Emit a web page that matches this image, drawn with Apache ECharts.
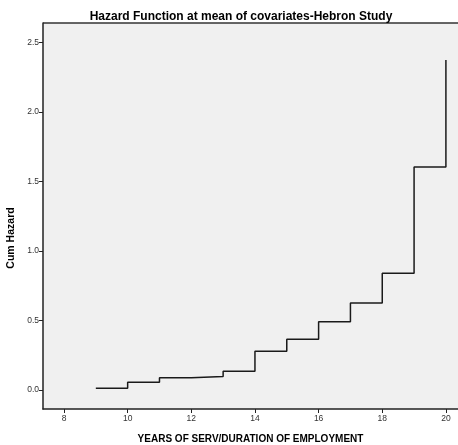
<!DOCTYPE html>
<html><head><meta charset="utf-8">
<script src="https://cdn.jsdelivr.net/npm/echarts@6/dist/echarts.min.js"></script>
<style>html,body{margin:0;padding:0;background:#fff}#c{width:458px;height:445px}</style>
</head><body><div id="c"></div>
<script>
const years = [9, 10, 11, 12, 13, 14, 15, 16, 17, 18, 19, 20];
const cumHazard = [0.012, 0.055, 0.088, 0.096, 0.134, 0.278, 0.365, 0.49, 0.626, 0.84, 1.604, 2.374];
const xTicks = [8, 10, 12, 14, 16, 18, 20];
const yTicks = [0.0, 0.5, 1.0, 1.5, 2.0, 2.5];

const chart = echarts.init(document.getElementById('c'), null, {renderer: 'canvas'});
const font = 'Liberation Sans, Arial, sans-serif';
chart.setOption({
  animation: false,
  title: {
    text: 'Hazard Function at mean of covariates-Hebron Study',
    left: 236, top: 6, textAlign: 'center',
    textStyle: {fontFamily: font, fontSize: 12, fontWeight: 'bold', color: '#000'}
  },
  grid: {left: 43, top: 23, right: 0, bottom: 36, containLabel: false, outerBoundsMode: 'none',
         show: true, backgroundColor: '#f0f0f0', borderColor: '#222', borderWidth: 0},
  graphic: [
    {type: 'line', shape: {x1: 43, y1: 23, x2: 458, y2: 23}, style: {stroke: '#333', lineWidth: 1.5}}
  ],
  xAxis: {
    type: 'value', min: 7.34, max: 20.38,
    name: 'YEARS OF SERV/DURATION OF EMPLOYMENT', nameLocation: 'middle', nameGap: 25,
    nameTextStyle: {fontFamily: font, fontSize: 10, fontWeight: 'bold', color: '#000'},
    axisLine: {show: true, onZero: false, lineStyle: {color: '#222', width: 1.5}},
    axisTick: {show: true, length: 4, customValues: xTicks, lineStyle: {color: '#222'}},
    axisLabel: {customValues: xTicks, fontFamily: font, fontSize: 8.5, color: '#333', margin: 5},
    splitLine: {show: false}
  },
  yAxis: {
    type: 'value', min: -0.137, max: 2.64,
    name: 'Cum Hazard', nameLocation: 'middle', nameGap: 19,
    nameTextStyle: {fontFamily: font, fontSize: 10.5, fontWeight: 'bold', color: '#000', padding: [10, 44, 0, 0]},
    axisLine: {show: true, onZero: false, lineStyle: {color: '#222', width: 1.5}},
    axisTick: {show: true, length: 4, customValues: yTicks, lineStyle: {color: '#222'}},
    axisLabel: {customValues: yTicks, formatter: v => v.toFixed(1), fontFamily: font, fontSize: 8.5, color: '#333', margin: 4},
    splitLine: {show: false}
  },
  series: [{
    type: 'line', step: 'end', showSymbol: false,
    data: years.map((x, i) => [x, cumHazard[i]]),
    lineStyle: {color: '#1a1a1a', width: 1.5}
  }]
});
</script></body></html>
